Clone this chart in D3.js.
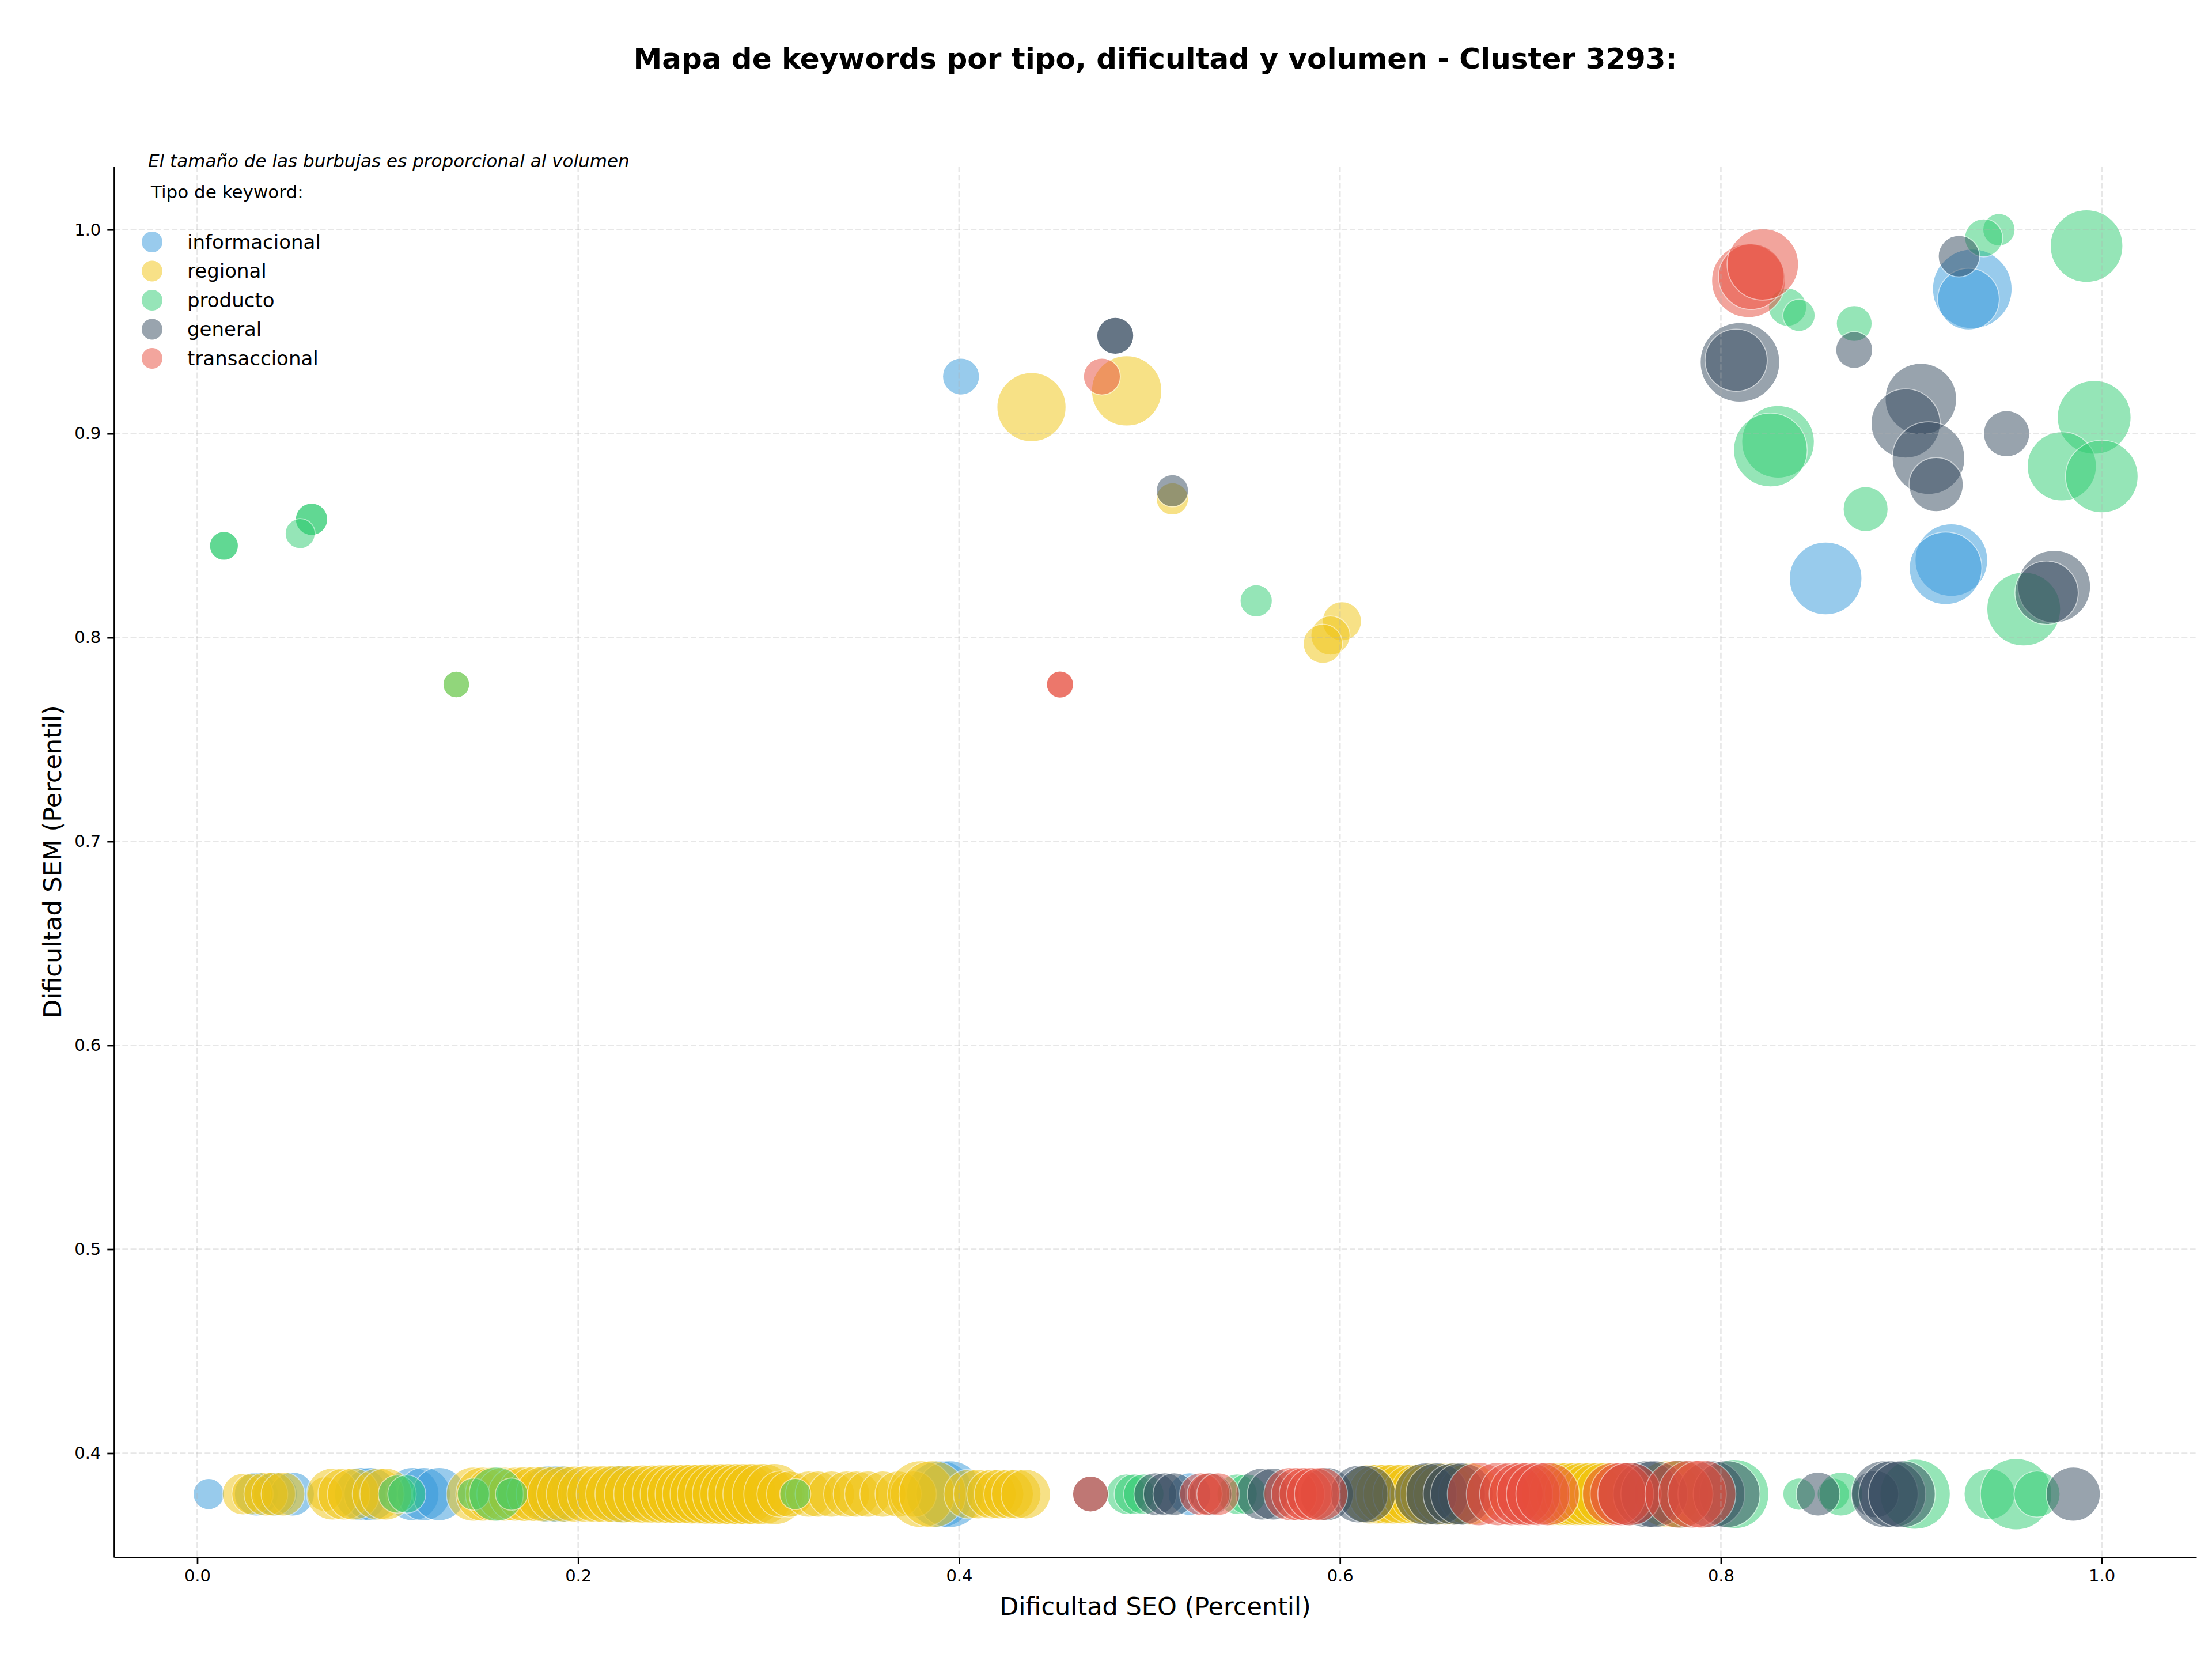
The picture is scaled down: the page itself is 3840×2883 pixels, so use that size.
<!DOCTYPE html>
<html>
<head>
<meta charset="utf-8">
<script src="https://cdnjs.cloudflare.com/ajax/libs/d3/7.8.5/d3.min.js"></script>
<style>
  body { margin: 0; background: #fff; }
  svg { display: block; font-family: "DejaVu Sans", sans-serif; }
</style>
</head>
<body>
<svg id="chart"></svg>
<script>
/* data: [dificultad SEO, dificultad SEM, volumen] */
const categories = ["informacional", "regional", "producto", "general", "transaccional"];

const informacional = [
  [0.006,0.38,178],[0.031,0.38,353],[0.041,0.38,353],[0.050,0.38,353],[0.086,0.38,517],
  [0.091,0.38,517],[0.113,0.38,517],[0.119,0.38,517],[0.127,0.38,517],[0.185,0.38,600],
  [0.190,0.38,600],[0.222,0.38,612],[0.390,0.38,821],[0.395,0.38,821],[0.521,0.38,334],
  [0.401,0.928,250],[0.932,0.971,1162],[0.930,0.966,700],[0.855,0.829,969],
  [0.921,0.838,969],[0.918,0.834,969]
];

const regional = [
  [0.024,0.38,316],[0.029,0.38,316],[0.036,0.38,353],[0.040,0.38,353],[0.045,0.38,353],
  [0.067,0.38,220],[0.071,0.38,494],[0.077,0.38,494],[0.082,0.38,494],[0.095,0.38,494],
  [0.099,0.38,494],
  [0.145,0.38,539],[0.150,0.38,539],[0.155,0.38,539],[0.161,0.38,539],[0.167,0.38,539],
  [0.172,0.38,551],[0.177,0.38,551],[0.182,0.38,563],[0.188,0.38,563],[0.193,0.38,575],
  [0.198,0.38,575],[0.204,0.38,587],[0.209,0.38,587],[0.214,0.38,600],[0.219,0.38,600],
  [0.224,0.38,612],[0.229,0.38,612],[0.234,0.38,625],[0.239,0.38,625],[0.244,0.38,637],
  [0.248,0.38,637],[0.252,0.38,650],[0.256,0.38,650],[0.260,0.38,662],[0.264,0.38,662],
  [0.268,0.38,675],[0.272,0.38,675],[0.276,0.38,686],[0.280,0.38,686],[0.284,0.38,686],
  [0.288,0.38,686],[0.292,0.38,686],[0.297,0.38,686],[0.303,0.38,686],
  [0.306,0.38,391],[0.311,0.38,391],[0.321,0.38,391],[0.326,0.38,391],[0.333,0.38,391],
  [0.341,0.38,391],[0.346,0.38,391],[0.352,0.38,391],[0.360,0.38,391],[0.368,0.38,391],
  [0.376,0.38,391],[0.380,0.38,821],[0.386,0.38,821],
  [0.405,0.38,451],[0.410,0.38,451],[0.417,0.38,451],[0.421,0.38,451],[0.426,0.38,451],
  [0.430,0.38,451],[0.435,0.38,451],
  [0.616,0.38,660],[0.620,0.38,660],[0.624,0.38,660],[0.628,0.38,660],[0.633,0.38,660],
  [0.638,0.38,660],[0.642,0.38,660],[0.648,0.38,712],[0.655,0.38,712],[0.660,0.38,712],
  [0.668,0.38,712],
  [0.712,0.38,739],[0.716,0.38,739],[0.720,0.38,739],[0.724,0.38,739],[0.728,0.38,739],
  [0.732,0.38,739],[0.736,0.38,739],[0.740,0.38,739],[0.772,0.38,821],[0.776,0.38,821],
  [0.136,0.777,130],
  [0.438,0.913,879],[0.488,0.921,908],[0.512,0.868,191],[0.601,0.808,282],
  [0.595,0.801,282],[0.591,0.797,282]
];

const producto = [
  [0.105,0.38,266],[0.110,0.38,266],[0.145,0.38,191],[0.157,0.38,539],[0.165,0.38,191],
  [0.314,0.38,178],[0.488,0.38,299],[0.492,0.38,299],[0.497,0.38,299],[0.546,0.38,299],
  [0.551,0.38,299],[0.779,0.38,850],[0.807,0.38,879],[0.841,0.38,191],[0.859,0.38,191],
  [0.863,0.38,353],[0.902,0.38,908],[0.941,0.38,473],[0.955,0.38,938],[0.966,0.38,391],
  [0.014,0.845,153],[0.014,0.845,153],[0.060,0.858,191],[0.060,0.858,191],[0.054,0.851,165],
  [0.136,0.777,130],[0.556,0.818,191],
  [0.835,0.962,266],[0.841,0.958,191],[0.870,0.954,235],[0.946,1.0,191],[0.938,0.996,266],
  [0.992,0.992,969],[0.830,0.896,969],[0.826,0.892,1000],[0.996,0.908,1000],
  [0.979,0.884,879],[1.0,0.879,969],[0.876,0.863,371],[0.959,0.814,1000]
];

const general = [
  [0.469,0.38,235],[0.503,0.38,334],[0.508,0.38,334],[0.513,0.38,334],
  [0.532,0.38,334],[0.559,0.38,494],[0.565,0.38,494],[0.593,0.38,517],[0.610,0.38,610],
  [0.614,0.38,610],[0.645,0.38,712],[0.651,0.38,712],[0.660,0.38,712],[0.664,0.38,712],
  [0.752,0.38,739],[0.761,0.38,821],[0.765,0.38,821],[0.795,0.38,821],[0.803,0.38,821],
  [0.851,0.38,353],[0.881,0.38,410],[0.886,0.38,821],[0.890,0.38,821],[0.895,0.38,821],
  [0.985,0.38,539],
  [0.482,0.948,250],[0.482,0.948,250],[0.512,0.872,191],[0.810,0.935,1162],
  [0.808,0.936,712],[0.870,0.941,250],[0.925,0.987,316],[0.905,0.917,938],
  [0.897,0.905,879],[0.909,0.888,969],[0.913,0.875,539],[0.950,0.900,391],
  [0.975,0.825,969],[0.971,0.822,739]
];

const transaccional = [
  [0.469,0.38,235],[0.527,0.38,334],[0.531,0.38,334],[0.536,0.38,334],[0.574,0.38,517],
  [0.578,0.38,517],[0.582,0.38,517],[0.586,0.38,517],[0.590,0.38,517],[0.673,0.38,739],
  [0.683,0.38,739],[0.690,0.38,739],[0.695,0.38,739],[0.699,0.38,739],[0.704,0.38,739],
  [0.709,0.38,739],[0.744,0.38,739],[0.748,0.38,739],[0.752,0.38,739],[0.778,0.38,850],
  [0.785,0.38,850],[0.790,0.38,850],
  [0.475,0.928,250],[0.453,0.777,135],[0.453,0.777,135],[0.8145,0.975,1000],
  [0.816,0.977,793],[0.822,0.983,938]
];

const xTicks = [0.0, 0.2, 0.4, 0.6, 0.8, 1.0];
const yTicks = [0.4, 0.5, 0.6, 0.7, 0.8, 0.9, 1.0];

const title = "Mapa de keywords por tipo, dificultad y volumen - Cluster 3293:";
const note = "El tamaño de las burbujas es proporcional al volumen";
const legendTitle = "Tipo de keyword:";
const xLabel = "Dificultad SEO (Percentil)";
const yLabel = "Dificultad SEM (Percentil)";

const colors = ["#3498db", "#f1c40f", "#2ecc71", "#34495e", "#e74c3c"];
const series = [informacional, regional, producto, general, transaccional];

/* layout */
const W = 3840, H = 2883;
const margin = {top: 289, right: 27, bottom: 180, left: 198};

const svg = d3.select("#chart")
  .attr("width", W)
  .attr("height", H);

svg.append("rect").attr("width", W).attr("height", H).attr("fill", "#fff");

// matplotlib style 5% padding around data
const all = series.flat();
let xe = d3.extent(all, d => d[0]);
let ye = d3.extent(all, d => d[1]);
let xp = (xe[1] - xe[0]) * 0.05;
let yp = (ye[1] - ye[0]) * 0.05;

let x = d3.scaleLinear()
  .domain([xe[0] - xp, xe[1] + xp])
  .range([margin.left, W - margin.right]);
let y = d3.scaleLinear()
  .domain([ye[0] - yp, ye[1] + yp])
  .range([H - margin.bottom, margin.top]);
let r = d3.scaleSqrt().domain([0, 1000]).range([0, 64]);

// bubbles, one layer per tipo
series.forEach((data, i) => {
  svg.append("g")
    .selectAll("circle")
    .data(data)
    .enter().append("circle")
    .attr("cx", d => x(d[0]))
    .attr("cy", d => y(d[1]))
    .attr("r", d => r(d[2]))
    .attr("fill", colors[i])
    .attr("stroke", "#fff")
    .attr("stroke-width", 1.7)
    .attr("opacity", 0.5);
});

// grid
let grid = svg.append("g")
  .attr("stroke", "#b0b0b0")
  .attr("stroke-opacity", 0.3)
  .attr("stroke-width", 2.7)
  .attr("stroke-dasharray", "10,4.3");

grid.selectAll(".gx")
  .data(xTicks)
  .enter().append("line")
  .attr("x1", d => x(d)).attr("x2", d => x(d))
  .attr("y1", margin.top).attr("y2", H - margin.bottom);

grid.selectAll(".gy")
  .data(yTicks)
  .enter().append("line")
  .attr("y1", d => y(d)).attr("y2", d => y(d))
  .attr("x1", margin.left).attr("x2", W - margin.right);

// axes (only left and bottom spines)
let xAxis = svg.append("g")
  .attr("transform", "translate(0," + (H - margin.bottom) + ")")
  .call(d3.axisBottom(x).tickValues(xTicks).tickFormat(d3.format(".1f"))
    .tickSize(11.7).tickSizeOuter(0).tickPadding(10));

let yAxis = svg.append("g")
  .attr("transform", "translate(" + margin.left + ",0)")
  .call(d3.axisLeft(y).tickValues(yTicks).tickFormat(d3.format(".1f"))
    .tickSize(11.7).tickSizeOuter(0).tickPadding(11));

[xAxis, yAxis].forEach(a => {
  a.select(".domain").attr("stroke", "#000").attr("stroke-width", 2.7);
  a.selectAll(".tick line").attr("stroke", "#000").attr("stroke-width", 2.7);
  a.selectAll(".tick text")
    .attr("font-family", "DejaVu Sans")
    .attr("font-size", 29)
    .attr("fill", "#000");
});

// texts
svg.append("text")
  .attr("x", (margin.left + W - margin.right) / 2)
  .attr("y", 119)
  .attr("text-anchor", "middle")
  .attr("font-size", 50)
  .attr("font-weight", "bold")
  .text(title);

svg.append("text")
  .attr("x", (margin.left + W - margin.right) / 2)
  .attr("y", 2803)
  .attr("text-anchor", "middle")
  .attr("font-size", 43)
  .text(xLabel);

svg.append("text")
  .attr("transform", "translate(106," + ((margin.top + H - margin.bottom) / 2) + ") rotate(-90)")
  .attr("text-anchor", "middle")
  .attr("font-size", 43)
  .text(yLabel);

svg.append("text")
  .attr("x", 257)
  .attr("y", 290)
  .attr("font-size", 31)
  .attr("font-style", "italic")
  .text(note);

// legend
let legend = svg.append("g");

legend.append("text")
  .attr("x", 262)
  .attr("y", 344)
  .attr("font-size", 31)
  .text(legendTitle);

let item = legend.selectAll(".item")
  .data(categories)
  .enter().append("g")
  .attr("transform", (d, i) => "translate(0," + (420 + i * 50.5) + ")");

item.append("circle")
  .attr("cx", 264)
  .attr("r", 18)
  .attr("fill", (d, i) => colors[i])
  .attr("opacity", 0.5);

item.append("text")
  .attr("x", 325)
  .attr("dy", "0.35em")
  .attr("font-size", 34)
  .text(d => d);
</script>
</body>
</html>
